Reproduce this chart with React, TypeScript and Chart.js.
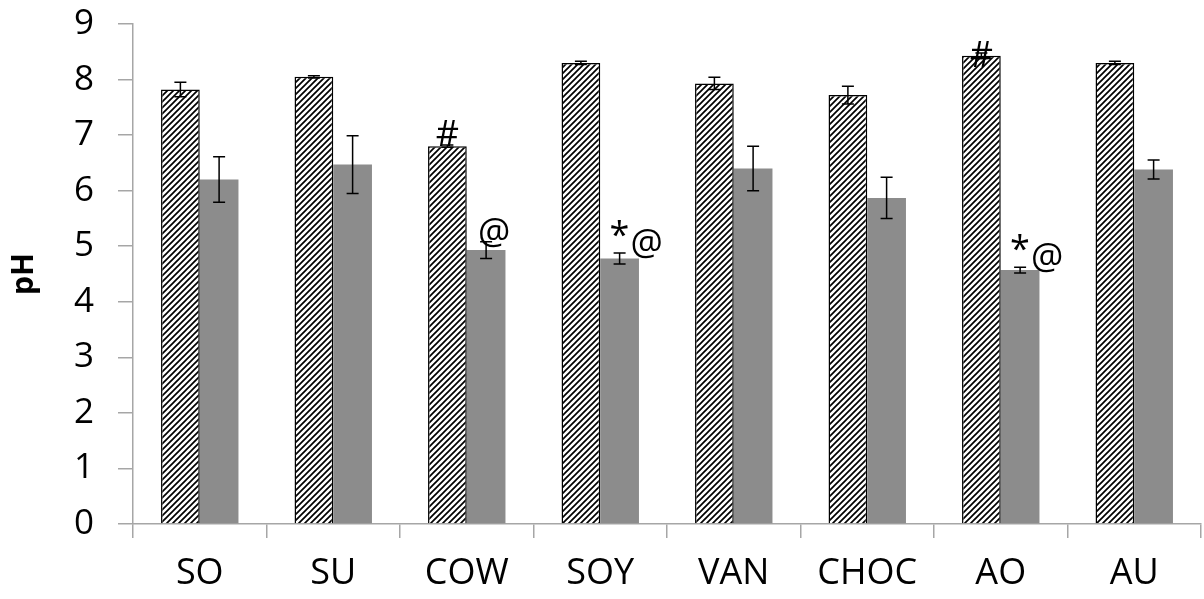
import React, { useEffect, useRef } from "react";
import { Chart, registerables } from "chart.js";

Chart.register(...registerables);

const categories = ["SO", "SU", "COW", "SOY", "VAN", "CHOC", "AO", "AU"];
const hatchedValues = [7.82, 8.05, 6.8, 8.3, 7.93, 7.72, 8.43, 8.3];
const hatchedErrors = [0.13, 0.02, 0.02, 0.03, 0.11, 0.16, 0.05, 0.03];
const greyValues = [6.2, 6.47, 4.93, 4.78, 6.4, 5.87, 4.57, 6.38];
const greyErrors = [0.41, 0.52, 0.15, 0.1, 0.4, 0.37, 0.05, 0.17];
const yTicks = [0, 1, 2, 3, 4, 5, 6, 7, 8, 9];

// annotation marks: category, dataset index, text
const annotationCats = ["COW", "COW", "SOY", "AO", "AO"];
const annotationSets = [0, 1, 1, 0, 1];
const annotationTexts = ["#", "@", "*@", "#", "*@"];

const FONT = "'Open Sans', 'Noto Sans', sans-serif";
const AXIS_COLOR = "#a6a6a6";
const GREY = "#8c8c8c";

function makeHatch(): CanvasPattern | string {
  const s = 6;
  const c = document.createElement("canvas");
  c.width = s;
  c.height = s;
  const ctx = c.getContext("2d");
  if (!ctx) return "#fff";
  ctx.fillStyle = "#fff";
  ctx.fillRect(0, 0, s, s);
  ctx.strokeStyle = "#000";
  ctx.lineWidth = 1.7;
  ctx.beginPath();
  ctx.moveTo(-1, s + 1);
  ctx.lineTo(s + 1, -1);
  ctx.moveTo(-1, 1);
  ctx.lineTo(1, -1);
  ctx.moveTo(s - 1, s + 1);
  ctx.lineTo(s + 1, s - 1);
  ctx.stroke();
  return ctx.createPattern(c, "repeat") || "#fff";
}

const errorBarPlugin = {
  id: "errorBars",
  afterDatasetsDraw(chart: any) {
    const ctx = chart.ctx;
    const yScale = chart.scales.y;
    const sets = [
      { vals: hatchedValues, errs: hatchedErrors },
      { vals: greyValues, errs: greyErrors },
    ];
    ctx.save();
    ctx.strokeStyle = "#000";
    ctx.lineWidth = 1.5;
    sets.forEach((set, di) => {
      const meta = chart.getDatasetMeta(di);
      meta.data.forEach((bar: any, i: number) => {
        const x = bar.x;
        const hi = yScale.getPixelForValue(set.vals[i] + set.errs[i]);
        const lo = yScale.getPixelForValue(set.vals[i] - set.errs[i]);
        const cap = 6;
        ctx.beginPath();
        ctx.moveTo(x, hi);
        ctx.lineTo(x, lo);
        ctx.moveTo(x - cap, hi);
        ctx.lineTo(x + cap, hi);
        ctx.moveTo(x - cap, lo);
        ctx.lineTo(x + cap, lo);
        ctx.stroke();
      });
    });
    // annotations
    ctx.fillStyle = "#000";
    ctx.font = `36px ${FONT}`;
    annotationCats.forEach((cat, k) => {
      const i = categories.indexOf(cat);
      const di = annotationSets[k];
      const text = annotationTexts[k];
      const bar: any = chart.getDatasetMeta(di).data[i];
      const vals = di === 0 ? hatchedValues : greyValues;
      const errs = di === 0 ? hatchedErrors : greyErrors;
      const top = yScale.getPixelForValue(vals[i] + errs[i]);
      ctx.textBaseline = "alphabetic";
      if (text === "#") {
        ctx.textAlign = "center";
        const dy = cat === "AO" ? 14 : 1;
        ctx.fillText(text, bar.x, top + dy);
      } else {
        ctx.textAlign = "left";
        let x = bar.x - 10;
        if (text.startsWith("*")) {
          ctx.fillText("*", x, top - 6);
          x += ctx.measureText("*").width + 1;
          ctx.fillText(text.slice(1), x, top + 2);
        } else {
          ctx.fillText(text, bar.x - 8, top + 2);
        }
      }
    });
    ctx.restore();
  },
};

export default function App() {
  const ref = useRef<HTMLCanvasElement | null>(null);
  useEffect(() => {
    document.body.style.margin = "0";
    const canvas = ref.current;
    if (!canvas) return;
    const chart = new Chart(canvas, {
      type: "bar",
      data: {
        labels: categories,
        datasets: [
          {
            data: hatchedValues,
            backgroundColor: makeHatch() as any,
            borderColor: "#000",
            borderWidth: 1.5,
            categoryPercentage: 0.58,
            barPercentage: 1.0,
          },
          {
            data: greyValues,
            backgroundColor: GREY,
            borderWidth: 0,
            categoryPercentage: 0.58,
            barPercentage: 1.0,
          },
        ],
      },
      options: {
        responsive: false,
        animation: false,
        layout: { padding: { top: 24, right: 3, left: 0, bottom: 0 } },
        plugins: { legend: { display: false }, tooltip: { enabled: false } },
        scales: {
          x: {
            grid: {
              display: true,
              drawOnChartArea: false,
              drawTicks: true,
              tickLength: 14,
              color: AXIS_COLOR,
              lineWidth: 1.5,
              offset: true,
            },
            border: { color: AXIS_COLOR, width: 1.5 },
            ticks: {
              color: "#000",
              font: { family: FONT, size: 36 },
              padding: 14,
              maxRotation: 0,
            },
            afterFit: (scale: any) => {
              scale.height = 75;
              scale.paddingLeft = 0;
              scale.paddingRight = 0;
            },
          },
          y: {
            min: 0,
            max: 9,
            afterBuildTicks: (scale: any) => {
              scale.ticks = yTicks.map((v) => ({ value: v }));
            },
            grid: {
              display: true,
              drawOnChartArea: false,
              drawTicks: true,
              tickLength: 15,
              color: AXIS_COLOR,
              lineWidth: 1.5,
            },
            border: { color: AXIS_COLOR, width: 1.5 },
            ticks: {
              color: "#000",
              font: { family: FONT, size: 35 },
              padding: 24,
            },
            title: {
              display: true,
              text: "pH",
              color: "#000",
              font: { family: FONT, size: 30, weight: "bold" },
              padding: { top: 6, bottom: 0 },
            },
            afterFit: (scale: any) => {
              scale.width = 133;
              scale.paddingTop = 0;
              scale.paddingBottom = 0;
            },
          },
        },
      },
      plugins: [errorBarPlugin],
    });
    return () => chart.destroy();
  }, []);
  return (
    <div style={{ width: 1204, height: 599, background: "#fff" }}>
      <canvas ref={ref} width={1204} height={599} style={{ display: "block" }} />
    </div>
  );
}
